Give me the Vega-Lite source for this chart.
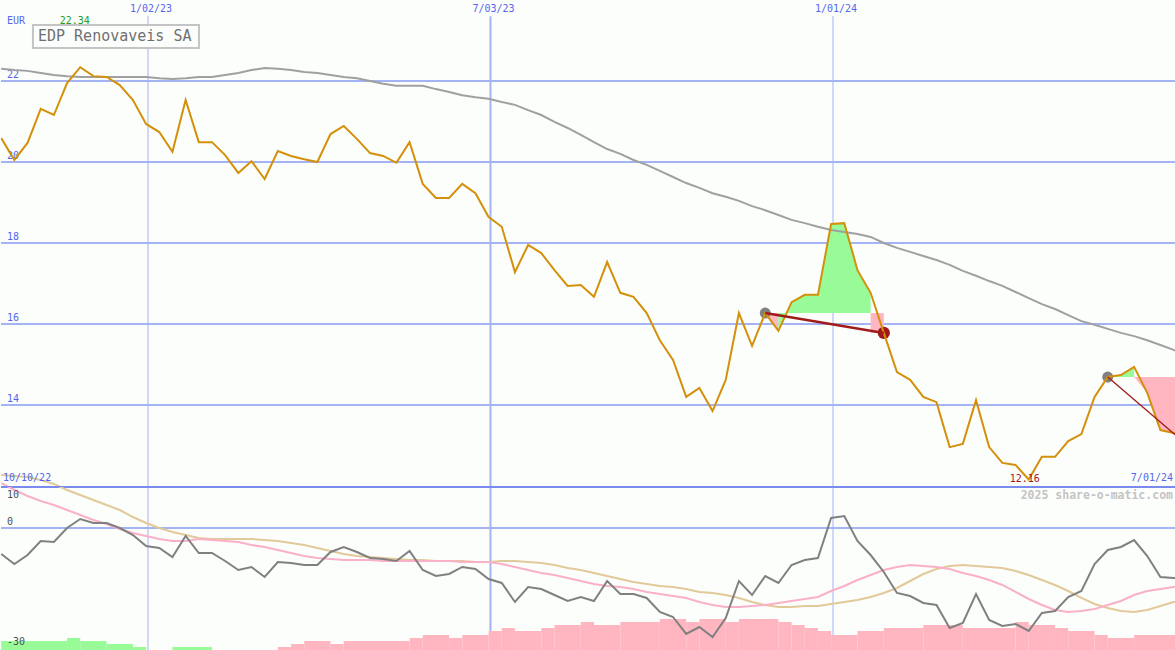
{
"$schema": "https://vega.github.io/schema/vega-lite/v6.json",
"background": "#fcfefc",
"padding": 0,
"spacing": 0,
"bounds": "flush",
"config": {"view": {"stroke": null}, "text": {"font": "DejaVu Sans Mono"}},
"datasets": {
"w": [
{"d":"2022-10-16","p":20.59,"ma":22.30,"o":-6.34,"pk":10.98,"tn":12.93},
{"d":"2022-10-23","p":20.05,"ma":22.27,"o":-8.78,"pk":9.27,"tn":12.68},
{"d":"2022-10-30","p":20.47,"ma":22.25,"o":-6.59,"pk":7.80,"tn":12.44},
{"d":"2022-11-06","p":21.31,"ma":22.20,"o":-3.17,"pk":6.59,"tn":11.71},
{"d":"2022-11-13","p":21.16,"ma":22.15,"o":-3.41,"pk":5.61,"tn":10.73},
{"d":"2022-11-20","p":21.95,"ma":22.12,"o":0,"pk":4.39,"tn":9.27},
{"d":"2022-11-27","p":22.34,"ma":22.10,"o":2.20,"pk":3.17,"tn":8.05},
{"d":"2022-12-04","p":22.12,"ma":22.10,"o":1.22,"pk":1.95,"tn":6.83},
{"d":"2022-12-11","p":22.10,"ma":22.10,"o":1.22,"pk":0.98,"tn":5.61},
{"d":"2022-12-18","p":21.90,"ma":22.10,"o":0,"pk":-0.24,"tn":4.39},
{"d":"2022-12-25","p":21.53,"ma":22.10,"o":-1.71,"pk":-1.22,"tn":2.68},
{"d":"2023-01-01","p":20.94,"ma":22.10,"o":-4.39,"pk":-1.95,"tn":1.22},
{"d":"2023-01-08","p":20.74,"ma":22.07,"o":-4.88,"pk":-2.68,"tn":0},
{"d":"2023-01-15","p":20.25,"ma":22.05,"o":-7.07,"pk":-3.17,"tn":-0.98},
{"d":"2023-01-22","p":21.53,"ma":22.07,"o":-1.95,"pk":-3.17,"tn":-1.71},
{"d":"2023-01-29","p":20.49,"ma":22.10,"o":-6.10,"pk":-2.68,"tn":-2.44},
{"d":"2023-02-05","p":20.49,"ma":22.10,"o":-6.10,"pk":-2.93,"tn":-2.68},
{"d":"2023-02-12","p":20.17,"ma":22.15,"o":-8.05,"pk":-3.17,"tn":-2.68},
{"d":"2023-02-19","p":19.73,"ma":22.20,"o":-10.24,"pk":-3.41,"tn":-2.68},
{"d":"2023-02-26","p":20.02,"ma":22.27,"o":-9.51,"pk":-4.15,"tn":-2.68},
{"d":"2023-03-05","p":19.58,"ma":22.32,"o":-11.95,"pk":-4.63,"tn":-2.93},
{"d":"2023-03-12","p":20.27,"ma":22.30,"o":-8.29,"pk":-5.37,"tn":-3.17},
{"d":"2023-03-19","p":20.15,"ma":22.27,"o":-8.54,"pk":-6.10,"tn":-3.66},
{"d":"2023-03-26","p":20.07,"ma":22.22,"o":-9.02,"pk":-6.83,"tn":-4.15},
{"d":"2023-04-02","p":20.00,"ma":22.20,"o":-9.02,"pk":-7.32,"tn":-4.88},
{"d":"2023-04-09","p":20.69,"ma":22.15,"o":-5.85,"pk":-7.56,"tn":-5.61},
{"d":"2023-04-16","p":20.89,"ma":22.10,"o":-4.63,"pk":-7.80,"tn":-6.34},
{"d":"2023-04-23","p":20.57,"ma":22.07,"o":-5.85,"pk":-7.80,"tn":-6.83},
{"d":"2023-04-30","p":20.22,"ma":22.00,"o":-7.32,"pk":-7.80,"tn":-7.07},
{"d":"2023-05-07","p":20.15,"ma":21.93,"o":-7.56,"pk":-8.05,"tn":-7.32},
{"d":"2023-05-14","p":19.98,"ma":21.88,"o":-8.05,"pk":-8.05,"tn":-7.56},
{"d":"2023-05-21","p":20.49,"ma":21.88,"o":-5.61,"pk":-8.05,"tn":-7.80},
{"d":"2023-05-28","p":19.46,"ma":21.88,"o":-10.24,"pk":-8.05,"tn":-7.80},
{"d":"2023-06-04","p":19.11,"ma":21.80,"o":-11.71,"pk":-8.05,"tn":-8.05},
{"d":"2023-06-11","p":19.11,"ma":21.73,"o":-11.22,"pk":-8.05,"tn":-8.05},
{"d":"2023-06-18","p":19.46,"ma":21.65,"o":-9.51,"pk":-8.29,"tn":-8.05},
{"d":"2023-06-25","p":19.23,"ma":21.60,"o":-10.00,"pk":-8.29,"tn":-8.29},
{"d":"2023-07-02","p":18.64,"ma":21.56,"o":-12.44,"pk":-8.29,"tn":-8.29},
{"d":"2023-07-09","p":18.40,"ma":21.48,"o":-13.41,"pk":-8.78,"tn":-8.05},
{"d":"2023-07-16","p":17.28,"ma":21.41,"o":-18.05,"pk":-9.51,"tn":-8.05},
{"d":"2023-07-23","p":17.95,"ma":21.28,"o":-14.39,"pk":-10.24,"tn":-8.29},
{"d":"2023-07-30","p":17.75,"ma":21.16,"o":-14.88,"pk":-10.98,"tn":-8.54},
{"d":"2023-08-06","p":17.33,"ma":20.99,"o":-16.34,"pk":-11.46,"tn":-9.02},
{"d":"2023-08-13","p":16.94,"ma":20.84,"o":-17.80,"pk":-12.20,"tn":-9.76},
{"d":"2023-08-20","p":16.96,"ma":20.67,"o":-16.83,"pk":-12.93,"tn":-10.24},
{"d":"2023-08-27","p":16.67,"ma":20.49,"o":-17.80,"pk":-13.66,"tn":-10.98},
{"d":"2023-09-03","p":17.53,"ma":20.32,"o":-12.93,"pk":-14.15,"tn":-11.71},
{"d":"2023-09-10","p":16.77,"ma":20.20,"o":-16.10,"pk":-14.39,"tn":-12.44},
{"d":"2023-09-17","p":16.67,"ma":20.05,"o":-16.10,"pk":-14.88,"tn":-13.17},
{"d":"2023-09-24","p":16.27,"ma":19.93,"o":-17.07,"pk":-15.61,"tn":-13.66},
{"d":"2023-10-01","p":15.60,"ma":19.78,"o":-20.49,"pk":-16.10,"tn":-14.15},
{"d":"2023-10-08","p":15.11,"ma":19.63,"o":-21.71,"pk":-16.59,"tn":-14.39},
{"d":"2023-10-15","p":14.20,"ma":19.48,"o":-25.85,"pk":-17.07,"tn":-14.88},
{"d":"2023-10-22","p":14.42,"ma":19.36,"o":-24.15,"pk":-18.05,"tn":-15.61},
{"d":"2023-10-29","p":13.85,"ma":19.23,"o":-26.59,"pk":-18.78,"tn":-15.85},
{"d":"2023-11-05","p":14.62,"ma":19.14,"o":-21.95,"pk":-19.27,"tn":-16.34},
{"d":"2023-11-12","p":16.27,"ma":19.04,"o":-12.93,"pk":-19.27,"tn":-17.07},
{"d":"2023-11-19","p":15.46,"ma":18.91,"o":-16.34,"pk":-19.02,"tn":-18.05},
{"d":"2023-11-26","p":16.27,"ma":18.81,"o":-11.71,"pk":-18.78,"tn":-18.78},
{"d":"2023-12-03","p":15.83,"ma":18.69,"o":-13.41,"pk":-18.29,"tn":-19.27},
{"d":"2023-12-10","p":16.54,"ma":18.57,"o":-9.02,"pk":-17.80,"tn":-19.27},
{"d":"2023-12-17","p":16.72,"ma":18.49,"o":-7.80,"pk":-17.32,"tn":-19.02},
{"d":"2023-12-24","p":16.72,"ma":18.40,"o":-7.32,"pk":-16.83,"tn":-19.02},
{"d":"2023-12-31","p":18.47,"ma":18.32,"o":2.44,"pk":-15.37,"tn":-18.54},
{"d":"2024-01-07","p":18.49,"ma":18.27,"o":2.93,"pk":-14.15,"tn":-18.05},
{"d":"2024-01-14","p":17.33,"ma":18.22,"o":-3.17,"pk":-12.68,"tn":-17.56},
{"d":"2024-01-21","p":16.77,"ma":18.15,"o":-6.59,"pk":-11.46,"tn":-16.83},
{"d":"2024-01-28","p":15.78,"ma":18.00,"o":-10.73,"pk":-10.24,"tn":-15.85},
{"d":"2024-02-04","p":14.81,"ma":17.88,"o":-15.85,"pk":-9.51,"tn":-14.63},
{"d":"2024-02-11","p":14.62,"ma":17.78,"o":-16.59,"pk":-9.02,"tn":-12.93},
{"d":"2024-02-18","p":14.20,"ma":17.68,"o":-18.29,"pk":-9.27,"tn":-11.22},
{"d":"2024-02-25","p":14.07,"ma":17.58,"o":-18.78,"pk":-9.51,"tn":-10.00},
{"d":"2024-03-03","p":12.96,"ma":17.46,"o":-24.39,"pk":-10.00,"tn":-9.27},
{"d":"2024-03-10","p":13.04,"ma":17.31,"o":-23.17,"pk":-10.98,"tn":-9.02},
{"d":"2024-03-17","p":14.12,"ma":17.19,"o":-16.10,"pk":-11.71,"tn":-9.27},
{"d":"2024-03-24","p":12.96,"ma":17.06,"o":-22.44,"pk":-12.68,"tn":-9.51},
{"d":"2024-03-31","p":12.57,"ma":16.94,"o":-23.90,"pk":-13.90,"tn":-9.76},
{"d":"2024-04-07","p":12.52,"ma":16.79,"o":-23.41,"pk":-15.61,"tn":-10.49},
{"d":"2024-04-14","p":12.16,"ma":16.64,"o":-25.12,"pk":-17.32,"tn":-11.46},
{"d":"2024-04-21","p":12.72,"ma":16.49,"o":-20.73,"pk":-18.78,"tn":-12.68},
{"d":"2024-04-28","p":12.72,"ma":16.37,"o":-20.24,"pk":-20.00,"tn":-13.90},
{"d":"2024-05-05","p":13.11,"ma":16.22,"o":-16.83,"pk":-20.49,"tn":-15.37},
{"d":"2024-05-12","p":13.28,"ma":16.07,"o":-15.37,"pk":-20.24,"tn":-17.07},
{"d":"2024-05-19","p":14.20,"ma":15.98,"o":-8.78,"pk":-19.76,"tn":-18.54},
{"d":"2024-05-26","p":14.69,"ma":15.88,"o":-5.37,"pk":-18.78,"tn":-19.51},
{"d":"2024-06-02","p":14.74,"ma":15.78,"o":-4.63,"pk":-17.80,"tn":-20.24},
{"d":"2024-06-09","p":14.94,"ma":15.70,"o":-2.93,"pk":-16.34,"tn":-20.49},
{"d":"2024-06-16","p":14.30,"ma":15.60,"o":-6.83,"pk":-15.37,"tn":-20.00},
{"d":"2024-06-23","p":13.38,"ma":15.48,"o":-11.95,"pk":-14.88,"tn":-19.02},
{"d":"2024-06-30","p":13.31,"ma":15.36,"o":-12.20,"pk":-14.39,"tn":-18.05},
{"d":"2024-07-07","p":13.26,"ma":15.26,"o":-12.20,"pk":-14.15,"tn":-17.32}
],
"ovl": [
{"d":"2022-10-16","v":12.27,"s":"tn"},
{"d":"2022-10-23","v":12.245,"s":"tn"},
{"d":"2022-10-30","v":12.22,"s":"tn"},
{"d":"2022-11-06","v":12.15,"s":"tn"},
{"d":"2022-11-13","v":12.05,"s":"tn"},
{"d":"2022-11-20","v":11.90,"s":"tn"},
{"d":"2022-10-16","v":12.07,"s":"pk"},
{"d":"2022-10-23","v":11.90,"s":"pk"}
],
"fill": [
{"d":"2023-11-26","p":16.27,"lv":16.27,"g":"a","c":"p"},
{"d":"2023-12-03","p":15.83,"lv":16.27,"g":"a","c":"p"},
{"d":"2023-12-03","p":15.83,"lv":16.27,"g":"b","c":"g"},
{"d":"2023-12-10","p":16.54,"lv":16.27,"g":"b","c":"g"},
{"d":"2023-12-17","p":16.72,"lv":16.27,"g":"b","c":"g"},
{"d":"2023-12-24","p":16.72,"lv":16.27,"g":"b","c":"g"},
{"d":"2023-12-31","p":18.47,"lv":16.27,"g":"b","c":"g"},
{"d":"2024-01-07","p":18.49,"lv":16.27,"g":"b","c":"g"},
{"d":"2024-01-14","p":17.33,"lv":16.27,"g":"b","c":"g"},
{"d":"2024-01-21","p":16.77,"lv":16.27,"g":"b","c":"g"},
{"d":"2024-01-21","p":15.78,"lv":16.27,"g":"c","c":"p"},
{"d":"2024-01-28","p":15.78,"lv":16.27,"g":"c","c":"p"},
{"d":"2024-05-26","p":14.69,"lv":14.69,"g":"d","c":"g"},
{"d":"2024-06-02","p":14.74,"lv":14.69,"g":"d","c":"g"},
{"d":"2024-06-09","p":14.94,"lv":14.69,"g":"d","c":"g"},
{"d":"2024-06-09","p":14.69,"lv":14.69,"g":"e","c":"p"},
{"d":"2024-06-16","p":14.30,"lv":14.69,"g":"e","c":"p"},
{"d":"2024-06-23","p":13.38,"lv":14.69,"g":"e","c":"p"},
{"d":"2024-06-30","p":13.31,"lv":14.69,"g":"e","c":"p"},
{"d":"2024-07-07","p":13.26,"lv":14.69,"g":"e","c":"p"}
],
"trades": [
{"d":"2023-11-26","v":16.27,"t":"t1"},
{"d":"2024-01-28","v":15.78,"t":"t1"},
{"d":"2024-05-26","v":14.69,"t":"t2"},
{"d":"2024-07-01","v":13.26,"t":"t2"}
],
"entries": [
{"d":"2023-11-26","v":16.27},
{"d":"2024-05-26","v":14.69}
],
"exits": [
{"d":"2024-01-28","v":15.78}
],
"hg": [
{"v":22,"lab":"22"},{"v":20,"lab":"20"},{"v":18,"lab":"18"},{"v":16,"lab":"16"},{"v":14,"lab":"14"}
],
"vg": [
{"d":"2023-01-02","lab":"1/02/23"},
{"d":"2023-07-03","lab":"7/03/23"},
{"d":"2024-01-01","lab":"1/01/24"}
],
"hist": [
{"d":"2022-10-16","d2":"2022-11-20","v":-27.56,"c":"g"},
{"d":"2022-11-20","d2":"2022-11-27","v":-26.83,"c":"g"},
{"d":"2022-11-27","d2":"2022-12-11","v":-27.56,"c":"g"},
{"d":"2022-12-11","d2":"2022-12-25","v":-28.29,"c":"g"},
{"d":"2022-12-25","d2":"2023-01-01","v":-29.02,"c":"g"},
{"d":"2023-01-15","d2":"2023-02-05","v":-29.02,"c":"g"},
{"d":"2023-03-12","d2":"2023-03-19","v":-29.02,"c":"p"},
{"d":"2023-03-19","d2":"2023-03-26","v":-28.29,"c":"p"},
{"d":"2023-03-26","d2":"2023-04-09","v":-27.56,"c":"p"},
{"d":"2023-04-09","d2":"2023-04-16","v":-28.29,"c":"p"},
{"d":"2023-04-16","d2":"2023-05-21","v":-27.56,"c":"p"},
{"d":"2023-05-21","d2":"2023-05-28","v":-26.83,"c":"p"},
{"d":"2023-05-28","d2":"2023-06-11","v":-26.10,"c":"p"},
{"d":"2023-06-11","d2":"2023-06-18","v":-26.83,"c":"p"},
{"d":"2023-06-18","d2":"2023-07-02","v":-26.10,"c":"p"},
{"d":"2023-07-02","d2":"2023-07-09","v":-25.12,"c":"p"},
{"d":"2023-07-09","d2":"2023-07-16","v":-24.39,"c":"p"},
{"d":"2023-07-16","d2":"2023-07-30","v":-25.12,"c":"p"},
{"d":"2023-07-30","d2":"2023-08-06","v":-24.39,"c":"p"},
{"d":"2023-08-06","d2":"2023-08-20","v":-23.66,"c":"p"},
{"d":"2023-08-20","d2":"2023-08-27","v":-22.93,"c":"p"},
{"d":"2023-08-27","d2":"2023-09-10","v":-23.66,"c":"p"},
{"d":"2023-09-10","d2":"2023-10-01","v":-22.93,"c":"p"},
{"d":"2023-10-01","d2":"2023-10-15","v":-22.20,"c":"p"},
{"d":"2023-10-15","d2":"2023-10-22","v":-22.93,"c":"p"},
{"d":"2023-10-22","d2":"2023-11-05","v":-22.20,"c":"p"},
{"d":"2023-11-05","d2":"2023-11-12","v":-22.93,"c":"p"},
{"d":"2023-11-12","d2":"2023-12-03","v":-22.20,"c":"p"},
{"d":"2023-12-03","d2":"2023-12-10","v":-22.93,"c":"p"},
{"d":"2023-12-10","d2":"2023-12-17","v":-23.66,"c":"p"},
{"d":"2023-12-17","d2":"2023-12-24","v":-24.39,"c":"p"},
{"d":"2023-12-24","d2":"2023-12-31","v":-25.12,"c":"p"},
{"d":"2023-12-31","d2":"2024-01-14","v":-26.10,"c":"p"},
{"d":"2024-01-14","d2":"2024-01-28","v":-25.12,"c":"p"},
{"d":"2024-01-28","d2":"2024-02-18","v":-24.39,"c":"p"},
{"d":"2024-02-18","d2":"2024-03-10","v":-23.66,"c":"p"},
{"d":"2024-03-10","d2":"2024-04-07","v":-24.39,"c":"p"},
{"d":"2024-04-07","d2":"2024-04-14","v":-22.93,"c":"p"},
{"d":"2024-04-14","d2":"2024-04-28","v":-23.66,"c":"p"},
{"d":"2024-04-28","d2":"2024-05-05","v":-24.39,"c":"p"},
{"d":"2024-05-05","d2":"2024-05-19","v":-25.12,"c":"p"},
{"d":"2024-05-19","d2":"2024-05-26","v":-26.10,"c":"p"},
{"d":"2024-05-26","d2":"2024-06-09","v":-26.83,"c":"p"},
{"d":"2024-06-09","d2":"2024-07-07","v":-26.10,"c":"p"}
]
},
"vconcat": [
{
"width": 1175, "height": 487,
"layer": [
{"data":{"name":"hg"},"mark":{"type":"rule","color":"#a3b3f3","strokeWidth":2},
 "encoding":{"y":{"field":"v","type":"quantitative","scale":{"domain":[11.975,24],"nice":false,"zero":false},"axis":null}}},
{"data":{"name":"hg"},"mark":{"type":"text","color":"#5566ee","fontSize":10,"align":"left","baseline":"middle","dx":6,"dy":-5.5},
 "encoding":{"x":{"datum":{"year":2022,"month":10,"date":15,"hours":21,"minutes":30,"utc":true},"type":"temporal","scale":{"domain":[{"year":2022,"month":10,"date":15,"hours":21,"minutes":30,"utc":true},{"year":2024,"month":7,"date":1,"hours":6,"minutes":30,"utc":true}]},"axis":null},
 "y":{"field":"v","type":"quantitative","scale":{"domain":[11.975,24],"nice":false,"zero":false},"axis":null},"text":{"field":"lab"}}},
{"data":{"name":"vg"},"mark":{"type":"rule","color":"#a3b3f3"},
 "encoding":{"x":{"field":"d","type":"temporal","scale":{"domain":[{"year":2022,"month":10,"date":15,"hours":21,"minutes":30,"utc":true},{"year":2024,"month":7,"date":1,"hours":6,"minutes":30,"utc":true}]},"axis":null},
 "y":{"datum":23.6,"type":"quantitative","scale":{"domain":[11.975,24],"nice":false,"zero":false},"axis":null},"y2":{"datum":11.975},
 "strokeWidth":{"condition":{"test":"month(datum.d)==0","value":1},"value":2}}},
{"data":{"name":"vg"},"mark":{"type":"text","color":"#5566ee","fontSize":10,"align":"center","baseline":"middle","dx":3,"dy":9},
 "encoding":{"x":{"field":"d","type":"temporal","axis":null},
 "y":{"datum":24,"type":"quantitative","scale":{"domain":[11.975,24],"nice":false,"zero":false},"axis":null},"text":{"field":"lab"}}},
{"data":{"name":"ovl"},"transform":[{"filter":"datum.s=='tn'"}],"mark":{"type":"line","color":"#e2c99a","strokeWidth":2,"clip":true},
 "encoding":{"x":{"field":"d","type":"temporal","axis":null},
 "y":{"field":"v","type":"quantitative","scale":{"domain":[11.975,24],"nice":false,"zero":false},"axis":null}}},
{"data":{"name":"ovl"},"transform":[{"filter":"datum.s=='pk'"}],"mark":{"type":"line","color":"#fab0c6","strokeWidth":2,"clip":true},
 "encoding":{"x":{"field":"d","type":"temporal","axis":null},
 "y":{"field":"v","type":"quantitative","scale":{"domain":[11.975,24],"nice":false,"zero":false},"axis":null}}},
{"data":{"name":"fill"},"mark":{"type":"area","clip":true,"opacity":1},
 "encoding":{"x":{"field":"d","type":"temporal","axis":null},
 "y":{"field":"p","type":"quantitative","stack":null,"scale":{"domain":[11.975,24],"nice":false,"zero":false},"axis":null},"y2":{"field":"lv"},
 "color":{"field":"c","type":"nominal","scale":{"domain":["g","p"],"range":["#98fb98","#ffb6c1"]},"legend":null},
 "detail":{"field":"g"}}},
{"data":{"name":"w"},"mark":{"type":"line","color":"#a0a0a0","strokeWidth":2,"clip":true},
 "encoding":{"x":{"field":"d","type":"temporal","axis":null},
 "y":{"field":"ma","type":"quantitative","scale":{"domain":[11.975,24],"nice":false,"zero":false},"axis":null}}},
{"data":{"name":"entries"},"mark":{"type":"circle","color":"#808080","size":120,"opacity":1},
 "encoding":{"x":{"field":"d","type":"temporal","axis":null},
 "y":{"field":"v","type":"quantitative","scale":{"domain":[11.975,24],"nice":false,"zero":false},"axis":null}}},
{"data":{"name":"exits"},"mark":{"type":"circle","color":"#a01818","size":150,"opacity":1},
 "encoding":{"x":{"field":"d","type":"temporal","axis":null},
 "y":{"field":"v","type":"quantitative","scale":{"domain":[11.975,24],"nice":false,"zero":false},"axis":null}}},
{"data":{"name":"w"},"mark":{"type":"line","color":"#d4900a","strokeWidth":2,"clip":true},
 "encoding":{"x":{"field":"d","type":"temporal","axis":null},
 "y":{"field":"p","type":"quantitative","scale":{"domain":[11.975,24],"nice":false,"zero":false},"axis":null}}},
{"data":{"name":"trades"},"transform":[{"filter":"datum.t=='t1'"}],"mark":{"type":"line","color":"#a01c1c","strokeWidth":2.5,"clip":true},
 "encoding":{"x":{"field":"d","type":"temporal","axis":null},
 "y":{"field":"v","type":"quantitative","scale":{"domain":[11.975,24],"nice":false,"zero":false},"axis":null}}},
{"data":{"name":"trades"},"transform":[{"filter":"datum.t=='t2'"}],"mark":{"type":"line","color":"#a01c1c","strokeWidth":1.3,"clip":true},
 "encoding":{"x":{"field":"d","type":"temporal","axis":null},
 "y":{"field":"v","type":"quantitative","scale":{"domain":[11.975,24],"nice":false,"zero":false},"axis":null}}},
{"data":{"values":[{}]},"mark":{"type":"rect","fill":"#fcfefc","stroke":"#c4c4c4","strokeWidth":2},
 "encoding":{"x":{"datum":{"year":2022,"month":11,"date":1,"hours":21,"utc":true},"type":"temporal","axis":null},
 "x2":{"datum":{"year":2023,"month":1,"date":29,"hours":2,"utc":true}},
 "y":{"datum":23.383,"type":"quantitative","scale":{"domain":[11.975,24],"nice":false,"zero":false},"axis":null},"y2":{"datum":22.815}}},
{"data":{"values":[{}]},"mark":{"type":"text","text":"EDP Renovaveis SA","color":"#707070","fontSize":15,"align":"left","baseline":"middle"},
 "encoding":{"x":{"datum":{"year":2022,"month":11,"date":4,"hours":13,"utc":true},"type":"temporal","axis":null},
 "y":{"datum":23.10,"type":"quantitative","scale":{"domain":[11.975,24],"nice":false,"zero":false},"axis":null}}},
{"data":{"values":[{}]},"mark":{"type":"text","text":"EUR","color":"#5566ee","fontSize":10,"align":"left","baseline":"middle","dx":6},
 "encoding":{"x":{"datum":{"year":2022,"month":10,"date":15,"hours":21,"minutes":30,"utc":true},"type":"temporal","axis":null},
 "y":{"datum":23.48,"type":"quantitative","scale":{"domain":[11.975,24],"nice":false,"zero":false},"axis":null}}},
{"data":{"values":[{}]},"mark":{"type":"text","text":"22.34","color":"#22a022","fontSize":10,"align":"center","baseline":"middle","dx":-5.5},
 "encoding":{"x":{"datum":{"year":2022,"month":11,"date":27,"utc":true},"type":"temporal","axis":null},
 "y":{"datum":23.48,"type":"quantitative","scale":{"domain":[11.975,24],"nice":false,"zero":false},"axis":null}}},
{"data":{"values":[{}]},"mark":{"type":"text","text":"12.16","color":"#a01818","fontSize":10,"align":"center","baseline":"middle","dx":-4},
 "encoding":{"x":{"datum":{"year":2024,"month":4,"date":14,"utc":true},"type":"temporal","axis":null},
 "y":{"datum":12.17,"type":"quantitative","scale":{"domain":[11.975,24],"nice":false,"zero":false},"axis":null}}},
{"data":{"values":[{}]},"mark":{"type":"text","text":"10/10/22","color":"#5566ee","fontSize":10,"align":"left","baseline":"middle","dx":2},
 "encoding":{"x":{"datum":{"year":2022,"month":10,"date":15,"hours":21,"minutes":30,"utc":true},"type":"temporal","axis":null},
 "y":{"datum":12.2,"type":"quantitative","scale":{"domain":[11.975,24],"nice":false,"zero":false},"axis":null}}},
{"data":{"values":[{}]},"mark":{"type":"text","text":"7/01/24","color":"#5566ee","fontSize":10,"align":"right","baseline":"middle","dx":-3},
 "encoding":{"x":{"datum":{"year":2024,"month":7,"date":1,"hours":6,"minutes":30,"utc":true},"type":"temporal","axis":null},
 "y":{"datum":12.2,"type":"quantitative","scale":{"domain":[11.975,24],"nice":false,"zero":false},"axis":null}}}
]
},
{
"width": 1175, "height": 163,
"layer": [
{"data":{"values":[{}]},"mark":{"type":"rule","color":"#a3b3f3","strokeWidth":2},
 "encoding":{"y":{"datum":0,"type":"quantitative","scale":{"domain":[-29.76,10],"nice":false,"zero":false},"axis":null}}},
{"data":{"name":"vg"},"mark":{"type":"rule","color":"#a3b3f3"},
 "encoding":{"x":{"field":"d","type":"temporal","scale":{"domain":[{"year":2022,"month":10,"date":15,"hours":21,"minutes":30,"utc":true},{"year":2024,"month":7,"date":1,"hours":6,"minutes":30,"utc":true}]},"axis":null},
 "y":{"datum":10,"type":"quantitative","scale":{"domain":[-29.76,10],"nice":false,"zero":false},"axis":null},"y2":{"datum":-29.76},
 "strokeWidth":{"condition":{"test":"month(datum.d)==0","value":1},"value":2}}},
{"data":{"values":[{}]},"mark":{"type":"rule","color":"#7a8aee","strokeWidth":2},
 "encoding":{"y":{"datum":10,"type":"quantitative","scale":{"domain":[-29.76,10],"nice":false,"zero":false},"axis":null}}},
{"data":{"name":"hist"},"mark":{"type":"rect","clip":true},
 "encoding":{"x":{"field":"d","type":"temporal","axis":null},"x2":{"field":"d2"},
 "y":{"field":"v","type":"quantitative","scale":{"domain":[-29.76,10],"nice":false,"zero":false},"axis":null},"y2":{"datum":-29.76},
 "color":{"field":"c","type":"nominal","scale":{"domain":["g","p"],"range":["#98fb98","#f9b4c8"]},"legend":null}}},
{"data":{"name":"w"},"mark":{"type":"line","color":"#e2c99a","strokeWidth":2,"clip":true},
 "encoding":{"x":{"field":"d","type":"temporal","axis":null},
 "y":{"field":"tn","type":"quantitative","scale":{"domain":[-29.76,10],"nice":false,"zero":false},"axis":null}}},
{"data":{"name":"w"},"mark":{"type":"line","color":"#fab0c6","strokeWidth":2,"clip":true},
 "encoding":{"x":{"field":"d","type":"temporal","axis":null},
 "y":{"field":"pk","type":"quantitative","scale":{"domain":[-29.76,10],"nice":false,"zero":false},"axis":null}}},
{"data":{"name":"w"},"mark":{"type":"line","color":"#808080","strokeWidth":2,"clip":true},
 "encoding":{"x":{"field":"d","type":"temporal","axis":null},
 "y":{"field":"o","type":"quantitative","scale":{"domain":[-29.76,10],"nice":false,"zero":false},"axis":null}}},
{"data":{"values":[{"v":7.93,"lab":"10"},{"v":1.46,"lab":"0"},{"v":-27.93,"lab":"-30"}]},"mark":{"type":"text","color":"#505050","fontSize":10,"align":"left","baseline":"middle","dx":6},
 "encoding":{"x":{"datum":{"year":2022,"month":10,"date":15,"hours":21,"minutes":30,"utc":true},"type":"temporal","axis":null},
 "y":{"field":"v","type":"quantitative","scale":{"domain":[-29.76,10],"nice":false,"zero":false},"axis":null},"text":{"field":"lab"}}},
{"data":{"values":[{}]},"mark":{"type":"text","text":"2025 share-o-matic.com","color":"#c4c4c4","fontSize":11.5,"fontWeight":"bold","align":"right","baseline":"middle","dx":-3},
 "encoding":{"x":{"datum":{"year":2024,"month":7,"date":1,"hours":6,"minutes":30,"utc":true},"type":"temporal","axis":null},
 "y":{"datum":7.8,"type":"quantitative","scale":{"domain":[-29.76,10],"nice":false,"zero":false},"axis":null}}}
]
}
]
}
